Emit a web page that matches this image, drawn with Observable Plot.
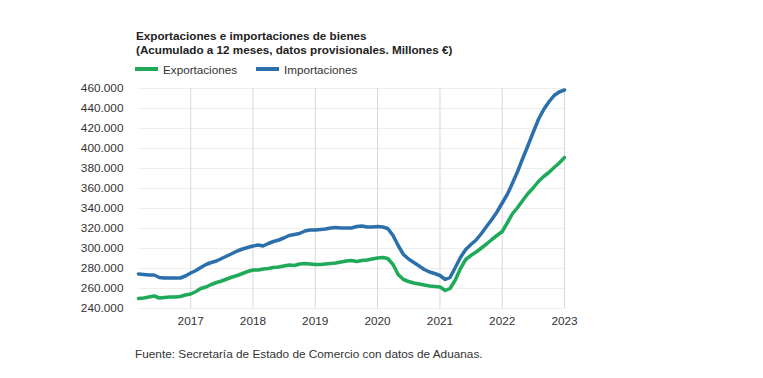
<!DOCTYPE html>
<html><head><meta charset="utf-8">
<script src="https://cdn.jsdelivr.net/npm/d3@7"></script>
<script src="https://cdn.jsdelivr.net/npm/@observablehq/plot@0.6"></script>
<style>
body{margin:0;background:#fff;font-family:"Liberation Sans",Arial,sans-serif;}
#wrap{position:relative;width:763px;height:378px;overflow:hidden;}
.title{position:absolute;left:136px;top:29px;font-size:11.7px;font-weight:bold;line-height:14px;color:#222;white-space:nowrap;}
.leg{position:absolute;top:62px;height:14px;font-size:11.7px;color:#333;display:flex;align-items:center;white-space:nowrap;}
.sw{display:inline-block;width:23px;height:4px;margin-right:5px;}
#chart{position:absolute;left:0;top:78px;}
.caption{position:absolute;left:135px;top:347px;font-size:11.8px;line-height:14px;color:#333;white-space:nowrap;}
</style></head>
<body>
<div id="wrap">
  <div class="title">Exportaciones e importaciones de bienes<br>(Acumulado a 12 meses, datos provisionales. Millones €)</div>
  <div class="leg" id="leg1" style="left:135px"></div>
  <div class="leg" id="leg2" style="left:256px"></div>
  <div id="chart"></div>
  <div class="caption">Fuente: Secretaría de Estado de Comercio con datos de Aduanas.</div>
</div>
<script>
// Monthly series, March 2016 – January 2023 (millones €, acumulado 12 meses)
const firstMonth = "2016-03-01";
const lastMonth = "2023-01-01";
const seriesNames = ["Exportaciones", "Importaciones"];
const seriesColors = ["#1eaa58", "#2b70aa"];
const exportaciones = [
  250000, 250500, 251500, 252500, 250500, 251000, 251500, 251500, 252000, 253500,
  254500, 257000, 260000, 261500, 264000, 266000, 267500, 269500, 271500, 273000, 275000, 277000,
  278500, 278500, 279500, 280000, 281000, 281500, 282500, 283500, 283000, 284500, 285000, 284500,
  284000, 284000, 284500, 285000, 285500, 286500, 287500, 288000, 287000, 288000, 288500, 289500,
  290500, 291000, 290000, 284000, 274000, 269000, 267000, 265500, 264500, 263500, 262500, 262000,
  261500, 258000, 260000, 268500, 280000, 289000, 293000, 296500, 300500, 304500, 309000, 313000,
  317000, 326000, 334500, 341000, 348000, 355000, 360500, 367000, 372000, 376000, 381000, 385500,
  391000
];
const importaciones = [
  274500, 274000, 273500, 273500, 271000, 270500, 270500, 270500, 270500, 272500,
  275500, 278000, 281000, 284000, 286000, 287500, 290000, 292500, 295000, 297500, 299500, 301000,
  302500, 303500, 302500, 305000, 307000, 308500, 310500, 313000, 314000, 315000, 317500, 318500,
  318500, 319000, 319500, 320500, 321000, 320500, 320500, 320500, 322000, 322500, 321500, 321500,
  322000, 321500, 320000, 313000, 303000, 294000, 289500, 286000, 282500, 279000, 276500, 275000,
  273000, 269000, 271000, 281000, 291000, 299000, 304000, 308500, 315000, 322000, 329000, 336500,
  345500, 354500, 365000, 377000, 390000, 403000, 416000, 429000, 439000, 446500, 453000, 456500,
  458500
];
const yTicks = [240000, 260000, 280000, 300000, 320000, 340000, 360000, 380000, 400000, 420000, 440000, 460000];
const xTickYears = ["2017", "2018", "2019", "2020", "2021", "2022", "2023"];

const months = d3.utcMonth.range(new Date(firstMonth), d3.utcMonth.offset(new Date(lastMonth), 1));
const rows = [];
months.forEach((m, i) => {
  rows.push({date: m, value: exportaciones[i], serie: seriesNames[0]});
  rows.push({date: m, value: importaciones[i], serie: seriesNames[1]});
});
const yearDates = xTickYears.map(y => new Date(y + "-01-01"));
const fmt = d => d3.format(",")(d).replace(/,/g, ".");

const chart = Plot.plot({
  width: 763,
  height: 252,
  marginTop: 10,
  marginBottom: 22,
  marginLeft: 138,
  marginRight: 199,
  style: {fontFamily: '"Liberation Sans", Arial, sans-serif', fontSize: "11.8px", color: "#333", background: "transparent"},
  x: {type: "utc", domain: [new Date(firstMonth), new Date(lastMonth)], label: null},
  y: {domain: [240000, 460000], label: null},
  color: {domain: seriesNames, range: seriesColors},
  marks: [
    Plot.ruleY(yTicks, {stroke: "#eeeeee", strokeWidth: 1}),
    Plot.ruleX(yearDates, {stroke: "#d8d8d8", strokeWidth: 1}),
    Plot.line(rows, {x: "date", y: "value", z: "serie", stroke: "serie", strokeWidth: 3.5, strokeLinejoin: "round", strokeLinecap: "round"}),
    Plot.axisY({ticks: yTicks, tickSize: 0, tickPadding: 15, tickFormat: fmt, fill: "#333", label: null}),
    Plot.axisX({ticks: yearDates, tickSize: 0, tickPadding: 8, tickFormat: d3.utcFormat("%Y"), fill: "#333", label: null})
  ]
});
document.getElementById("chart").appendChild(chart);

[["leg1", 0], ["leg2", 1]].forEach(([id, i]) => {
  const el = document.getElementById(id);
  el.innerHTML = `<span class="sw" style="background:${seriesColors[i]}"></span><span>${seriesNames[i]}</span>`;
});
</script>
</body></html>
